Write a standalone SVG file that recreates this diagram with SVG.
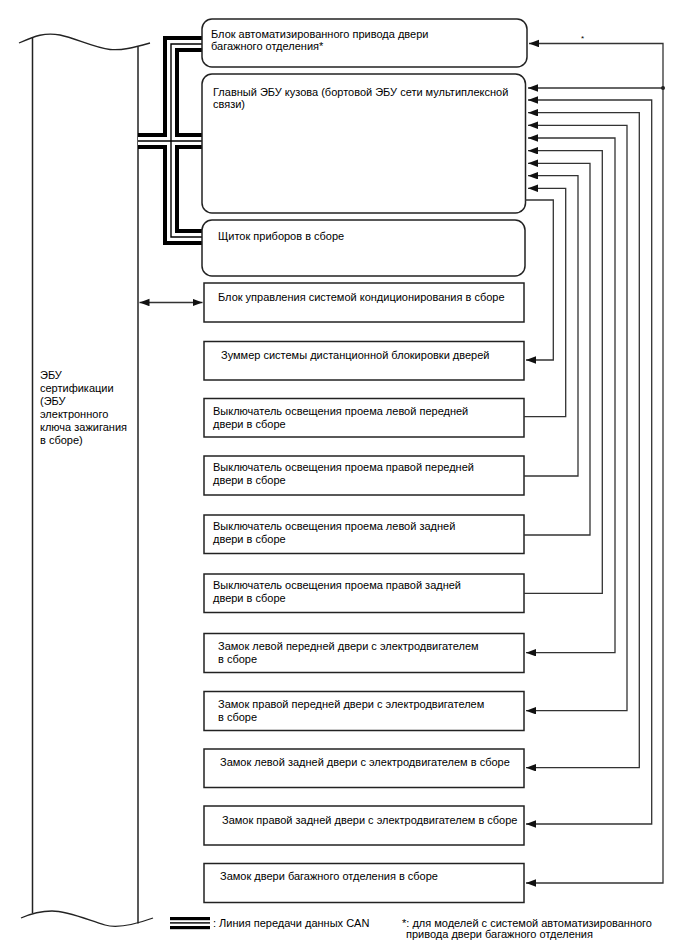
<svg xmlns="http://www.w3.org/2000/svg" width="688" height="949" viewBox="0 0 688 949">
<defs>
<style>
.box{fill:#fff;stroke:#222;stroke-width:1.5}
.t{font-family:"Liberation Sans",Arial,sans-serif;font-size:11px;fill:#000}
.ln{fill:none;stroke:#333;stroke-width:1.3}
.ar{marker-end:url(#ah)}
.ar2{marker-start:url(#ah);marker-end:url(#ah)}
.busb{fill:none;stroke:#000;stroke-width:16;stroke-linejoin:miter}
.busw{fill:none;stroke:#fff;stroke-width:8;stroke-linejoin:miter}
.bust{fill:none;stroke:#000;stroke-width:1.4;stroke-linejoin:miter}
</style>
<marker id="ah" markerUnits="userSpaceOnUse" markerWidth="11" markerHeight="8" refX="10" refY="3.75" orient="auto-start-reverse">
<path d="M0,0 L10,3.75 L0,7.5 z" fill="#111"/>
</marker>
</defs>
<rect width="688" height="949" fill="#fff"/>

<g id="ecu-cert">
<path class="ln" d="M19,43 C35,36 45,32 60,35 C75,38 95,48 110,49.5 C122,50.5 132,48 150,43" style="stroke:#222"/>
<path class="ln" d="M21,918 C30,914 40,911 52,911 C68,911 88,920 105,925 C115,928 128,927 153,918" style="stroke:#222"/>
<line class="ln" x1="32.5" y1="37.5" x2="32.5" y2="913" style="stroke:#222;stroke-width:1.5"/>
<line class="ln" x1="138" y1="46.5" x2="138" y2="923.5" style="stroke:#222;stroke-width:1.5"/>
<text class="t" x="40" y="379">ЭБУ</text>
<text class="t" x="40" y="392">сертификации</text>
<text class="t" x="40" y="405">(ЭБУ</text>
<text class="t" x="40" y="418">электронного</text>
<text class="t" x="40" y="431">ключа зажигания</text>
<text class="t" x="40" y="444">в сборе)</text>
</g>

<g id="can-bus">
<path class="busb" d="M202,44 H171 V237 H202 M138,141 H202"/>
<path class="busw" d="M202,44 H171 V237 H202 M138,141 H202"/>
<path class="bust" d="M202,44 H171 V237 H202 M138,141 H202"/>
</g>

<g id="n-power-door">
<rect class="box" x="202" y="19" width="325" height="48" rx="10"/>
<text class="t" x="211" y="37.5">Блок автоматизированного привода двери</text>
<text class="t" x="211" y="50">багажного отделения*</text>
</g>
<g id="n-main-body">
<rect class="box" x="202" y="74" width="323.5" height="139" rx="10"/>
<text class="t" x="213" y="95.5">Главный ЭБУ кузова (бортовой ЭБУ сети мультиплексной</text>
<text class="t" x="213" y="108">связи)</text>
</g>
<g id="n-combination-meter">
<rect class="box" x="202" y="220" width="323" height="56" rx="10"/>
<text class="t" x="218" y="240">Щиток приборов в сборе</text>
</g>
<g id="n-ac">
<rect class="box" x="204" y="283" width="320" height="39"/>
<text class="t" x="218" y="301">Блок управления системой кондиционирования в сборе</text>
</g>
<g id="n-buzzer">
<rect class="box" x="204" y="341.5" width="320" height="38.5"/>
<text class="t" x="221" y="359">Зуммер системы дистанционной блокировки дверей</text>
</g>
<g id="n-sw-fl">
<rect class="box" x="204" y="398.5" width="320" height="38.5"/>
<text class="t" x="213" y="415">Выключатель освещения проема левой передней</text>
<text class="t" x="213" y="428">двери в сборе</text>
</g>
<g id="n-sw-fr">
<rect class="box" x="204" y="456" width="320" height="39"/>
<text class="t" x="213" y="471">Выключатель освещения проема правой передней</text>
<text class="t" x="213" y="484">двери в сборе</text>
</g>
<g id="n-sw-rl">
<rect class="box" x="204" y="515" width="320" height="38.5"/>
<text class="t" x="213" y="530">Выключатель освещения проема левой задней</text>
<text class="t" x="213" y="543">двери в сборе</text>
</g>
<g id="n-sw-rr">
<rect class="box" x="204" y="574" width="320" height="38.5"/>
<text class="t" x="213" y="589">Выключатель освещения проема правой задней</text>
<text class="t" x="213" y="602">двери в сборе</text>
</g>
<g id="n-lock-fl">
<rect class="box" x="204" y="633.5" width="320" height="39"/>
<text class="t" x="218" y="650">Замок левой передней двери с электродвигателем</text>
<text class="t" x="218" y="663">в сборе</text>
</g>
<g id="n-lock-fr">
<rect class="box" x="204" y="691.5" width="320" height="39"/>
<text class="t" x="218" y="708">Замок правой передней двери с электродвигателем</text>
<text class="t" x="218" y="721">в сборе</text>
</g>
<g id="n-lock-rl">
<rect class="box" x="204" y="749" width="320" height="38.5"/>
<text class="t" x="220" y="766">Замок левой задней двери с электродвигателем в сборе</text>
</g>
<g id="n-lock-rr">
<rect class="box" x="204" y="806" width="320" height="39"/>
<text class="t" x="222" y="824">Замок правой задней двери с электродвигателем в сборе</text>
</g>
<g id="n-lock-trunk">
<rect class="box" x="204" y="863.5" width="320" height="39"/>
<text class="t" x="220" y="880">Замок двери багажного отделения в сборе</text>
</g>

<g id="connectors">
<path class="ln ar2" d="M139.5,302.5 H202.5"/>
<path class="ln ar" d="M663,88 V43.5 H529"/>
<path class="ln ar" d="M663,88 H528"/>
<path class="ln ar" d="M663,88 V883 H526"/>
<circle cx="663" cy="88" r="2" fill="#222"/>
<text class="t" x="581" y="41" style="font-size:8px">*</text>
<path class="ln ar2" d="M528,100 H651.7 V824 H526"/>
<path class="ln ar2" d="M528,112.7 H639.3 V767.7 H526"/>
<path class="ln ar2" d="M528,125.3 H627 V710.7 H526"/>
<path class="ln ar2" d="M528,138 H615 V652.7 H526"/>
<path class="ln ar" d="M524,593.3 H602.3 V150.7 H528"/>
<path class="ln ar" d="M524,535 H590 V163.3 H528"/>
<path class="ln ar" d="M524,476 H578 V175.7 H528"/>
<path class="ln ar" d="M524,416.7 H565.7 V188.3 H528"/>
<path class="ln ar" d="M525,200 H553.3 V360 H526"/>
</g>

<g id="legend">
<rect x="170" y="917" width="40" height="3.2" fill="#000"/>
<rect x="170" y="922.2" width="40" height="1.4" fill="#000"/>
<rect x="170" y="926" width="40" height="3.2" fill="#000"/>
<text class="t" x="213" y="927">: Линия передачи данных CAN</text>
<text class="t" x="402" y="926.5">*: для моделей с системой автоматизированного</text>
<text class="t" x="406" y="938">привода двери багажного отделения</text>
</g>
</svg>
